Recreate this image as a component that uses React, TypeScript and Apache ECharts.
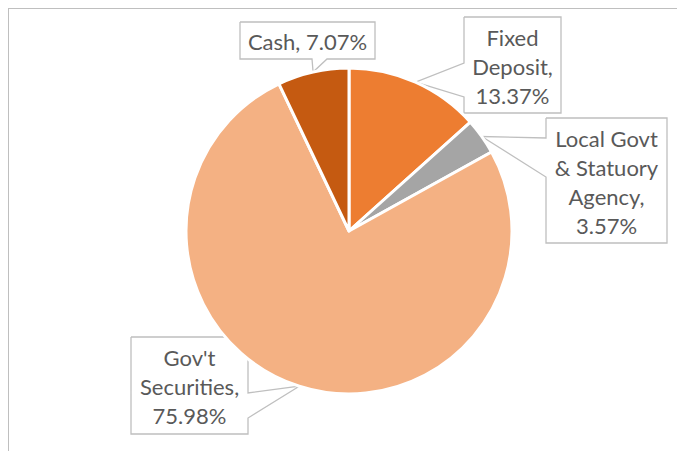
import React, { useEffect, useRef } from "react";
import * as echarts from "echarts";

const categories = ["Fixed Deposit", "Local Govt & Statuory Agency", "Gov't Securities", "Cash"];
const values = [13.37, 3.57, 75.98, 7.07];
const labelNames = ["Fixed\nDeposit", "Local Govt\n& Statuory\nAgency", "Gov't\nSecurities", "Cash"];
const labelBreaks = [true, true, true, false];
const colors = ["#ED7D31", "#A5A5A5", "#F4B183", "#C55A11"];

// callout boxes (chart coords): [left, top, width, height], wedge side, wedge base start/end
const callouts: { box: number[]; side: string; base: number[] }[] = [
  { box: [455, 8, 97, 96], side: "left", base: [54, 88] },
  { box: [537, 109, 121, 125], side: "left", base: [129, 168] },
  { box: [122, 328, 117, 97], side: "right", base: [384, 409] },
  { box: [231, 13, 135, 37], side: "bottom", base: [303, 318] },
];

function calloutPoints(i: number, tip: number[]) {
  const c = callouts[i];
  const [l, t, w, h] = c.box;
  const r = l + w;
  const b = t + h;
  const [s, e] = c.base;
  if (c.side === "left") {
    return [[l, t], [r, t], [r, b], [l, b], [l, e], tip, [l, s], [l, t]];
  }
  if (c.side === "right") {
    return [[l, t], [r, t], [r, s], tip, [r, e], [r, b], [l, b], [l, t]];
  }
  return [[l, t], [r, t], [r, b], [e, b], tip, [s, b], [l, b], [l, t]];
}

export default function App() {
  const ref = useRef<HTMLDivElement>(null);
  useEffect(() => {
    if (!ref.current) return;
    const chart = echarts.init(ref.current, null, { renderer: "svg" });
    chart.setOption({
      animation: false,
      series: [
        {
          type: "pie",
          center: [340, 222],
          radius: 163,
          startAngle: 90,
          clockwise: true,
          avoidLabelOverlap: false,
          itemStyle: { borderColor: "#FFFFFF", borderWidth: 3 },
          label: {
            show: true,
            position: "outside",
            color: "#595959",
            fontFamily: "Lato, 'Liberation Sans', sans-serif",
            fontSize: 22,
            lineHeight: 29,
            align: "center",
            formatter: (p: any) =>
              labelNames[p.dataIndex] + "," + (labelBreaks[p.dataIndex] ? "\n" : " ") + values[p.dataIndex] + "%",
          },
          labelLine: {
            show: true,
            length: 10,
            length2: 10,
            lineStyle: { color: "#BFBFBF", width: 1.3 },
          },
          labelLayout: (params: any) => {
            const i = params.dataIndex;
            const c = callouts[i];
            const tip = params.labelLinePoints ? params.labelLinePoints[0] : [340, 222];
            return {
              x: c.box[0] + c.box[2] / 2,
              y: c.box[1] + c.box[3] / 2 + 1,
              align: "center",
              verticalAlign: "middle",
              labelLinePoints: calloutPoints(i, [tip[0], tip[1]]),
            };
          },
          data: categories.map((name, i) => ({
            name,
            value: values[i],
            itemStyle: { color: colors[i] },
          })),
        },
      ],
    });
    return () => chart.dispose();
  }, []);
  return (
    <div style={{ width: 676, height: 442, borderLeft: "1px solid #BFBFBF", borderTop: "1px solid #BFBFBF" }}>
      <div ref={ref} style={{ width: 676, height: 442 }} />
    </div>
  );
}
